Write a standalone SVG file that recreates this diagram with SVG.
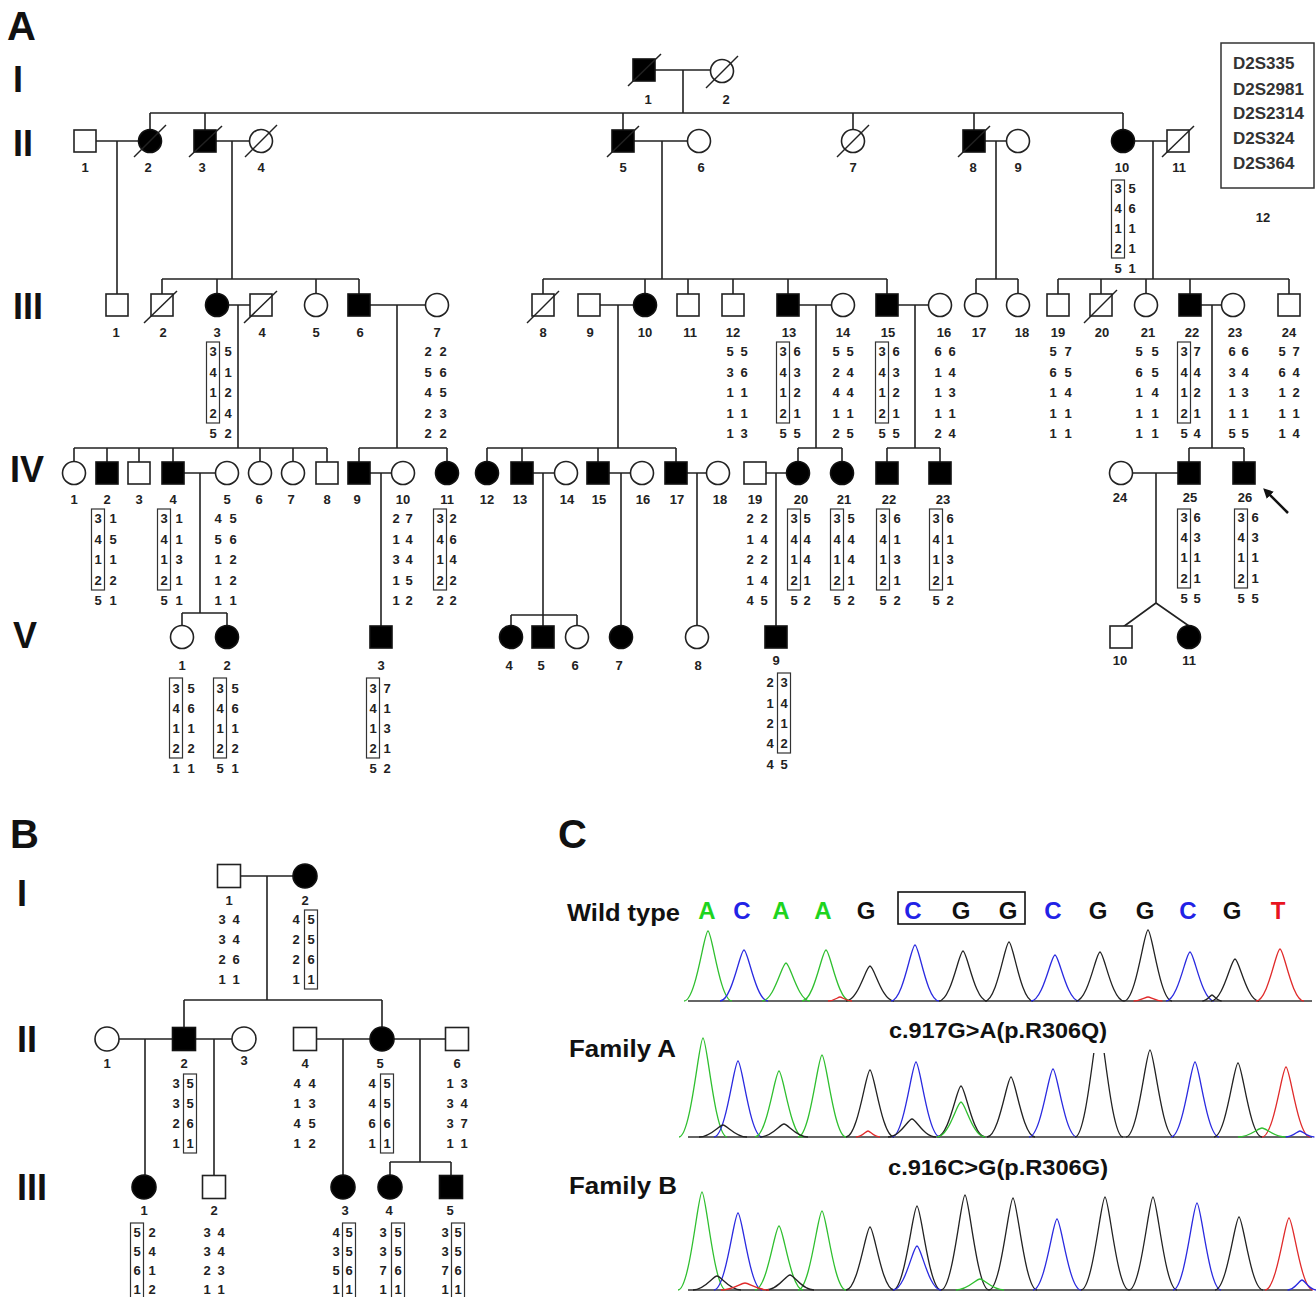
<svg xmlns="http://www.w3.org/2000/svg" width="1316" height="1297" viewBox="0 0 1316 1297">
<style>
.s{fill:#fff;stroke:#222;stroke-width:1.6}
.f{fill:#000;stroke:#111;stroke-width:1.6}
.ln{stroke:#222;stroke-width:1.6;fill:none}
.d{stroke:#222;stroke-width:1.5}
.lb{font-family:"Liberation Sans",Arial,sans-serif;font-weight:bold;font-size:13px;text-anchor:middle;fill:#222}
.g{font-family:"Liberation Sans",Arial,sans-serif;font-weight:bold;font-size:13px;text-anchor:middle;fill:#222}
.bx{fill:none;stroke:#333;stroke-width:1.2}
.gn{font-family:"Liberation Sans",Arial,sans-serif;font-weight:bold;font-size:36px;fill:#111}
.pn{font-family:"Liberation Sans",Arial,sans-serif;font-weight:bold;font-size:40px;fill:#111}
.lg{font-family:"Liberation Sans",Arial,sans-serif;font-weight:bold;font-size:17px;fill:#333}
.ct{font-family:"Liberation Sans",Arial,sans-serif;font-weight:bold;font-size:24px;fill:#111}
.mt{font-family:"Liberation Sans",Arial,sans-serif;font-weight:bold;font-size:22px;fill:#111;text-anchor:middle}
.sq{font-family:"Liberation Sans",Arial,sans-serif;font-weight:bold;font-size:24px;text-anchor:middle}
.gr{stroke:#2fbf2f}.bl{stroke:#2a2ae0}.bk{stroke:#222}.rd{stroke:#e02a2a}
.ax{stroke:#666;stroke-width:2.2}
</style>
<defs>
<path id="pk" d="M-24 0C-12 0 -4 -1 0 -1C4 -1 12 0 24 0" fill="none" stroke-width="1.3" vector-effect="non-scaling-stroke"/>
<marker id="ah" viewBox="0 0 10 10" refX="6" refY="5" markerWidth="4" markerHeight="4" orient="auto" markerUnits="strokeWidth"><path d="M0 0L10 5L0 10z" fill="#111"/></marker>
<clipPath id="cA"><rect x="1060" y="1053" width="80" height="100"/></clipPath>
</defs>

<!-- Panel labels -->
<text class="pn" x="7" y="40">A</text>
<text class="gn" x="13" y="92">I</text>
<text class="gn" x="13" y="156">II</text>
<text class="gn" x="13" y="319">III</text>
<text class="gn" x="10" y="482">IV</text>
<text class="gn" x="13" y="648">V</text>
<text class="pn" x="10" y="848">B</text>
<text class="gn" x="17" y="906">I</text>
<text class="gn" x="17" y="1052">II</text>
<text class="gn" x="17" y="1200">III</text>
<text class="pn" x="558" y="848">C</text>

<!-- Legend -->
<g id="legend">
<rect x="1221" y="43" width="93" height="145" fill="none" stroke="#333" stroke-width="1.5"/>
<text class="lg" x="1233" y="69">D2S335</text>
<text class="lg" x="1233" y="95">D2S2981</text>
<text class="lg" x="1233" y="119">D2S2314</text>
<text class="lg" x="1233" y="144">D2S324</text>
<text class="lg" x="1233" y="169">D2S364</text>
<text class="lb" x="1263" y="222">12</text>
</g>

<!-- Connectors -->
<g id="connectors" class="ln">
<!-- A gen I -->
<path d="M655 70H710.5M683 70V113M150 113H1123M150 113V129.5M205 113V130M623 113V130M853 113V129.5M974 113V130M1123 113V129.5"/>
<!-- A gen II marriages -->
<path d="M96 141H138.5M117 141V294M216 141H249.5M232 141V279M634 141H687.5M662 141V279M985 141H1006.5M996 141V279M1134.5 141H1167M1153 141V279"/>
<!-- A III sibships -->
<path d="M162 279H359M162 279V294M217 279V293.5M316 279V293.5M359 279V294"/>
<path d="M543 279H887M543 279V294M645 279V293.5M688 279V294M733 279V294M788 279V294M887 279V294"/>
<path d="M976 279H1018M976 279V293.5M1018 279V293.5"/>
<path d="M1058 279H1289M1058 279V294M1101 279V294M1146 279V293.5M1190 279V294M1289 279V294"/>
<!-- A III marriages -->
<path d="M228.5 305H250M238 305V448M370 305H425.5M397 305V448M600 305H633.5M618 305V448M799 305H831.5M816 305V448M898 305H928.5M915 305V448M1201 305H1221.5M1212 305V448"/>
<!-- A IV sibships -->
<path d="M74 448H327M74 448V461.5M107 448V462M139 448V462M173 448V462M260 448V461.5M293 448V461.5M327 448V462"/>
<path d="M359 448H447M359 448V462M447 448V461.5"/>
<path d="M487 448H676M487 448V461.5M522 448V462M598 448V462M676 448V462"/>
<path d="M798 448H842M798 448V461.5M842 448V461.5"/>
<path d="M887 448H940M887 448V462M940 448V462"/>
<path d="M1189 448H1244M1189 448V462M1244 448V462"/>
<!-- A IV marriages -->
<path d="M184 473H215.5M200 473V613M182 613H227M182 613V625.5M227 613V625.5"/>
<path d="M370 473H391.5M381 473V626"/>
<path d="M533 473H554.5M543 473V626M511 615H577M511 615V625.5M577 615V625.5"/>
<path d="M609 473H630.5M621 473V625.5"/>
<path d="M687 473H706.5M697 473V625.5"/>
<path d="M766 473H786.5M776 473V626"/>
<path d="M1132.5 473H1178M1156 473V603L1123 627M1156 603L1189 626"/>
<!-- B -->
<path d="M240.5 876H293M267 876V1000M184 1000H382M184 1000V1027.5M382 1000V1027"/>
<path d="M119 1039H172.5M145 1039V1175M195.5 1039H232M214 1039V1175.5"/>
<path d="M316.5 1039H370M343 1039V1175M394 1039H445.5M420 1039V1162M390 1162H451M390 1162V1175M451 1162V1175.5"/>
</g>
<line x1="1288" y1="513" x2="1266" y2="491" stroke="#111" stroke-width="2.5" marker-end="url(#ah)"/>

<!-- Panel A nodes -->
<g id="A-I-1"><rect class="f" x="633" y="59" width="22" height="22"/><line class="d" x1="628" y1="86" x2="661" y2="54"/><text class="lb" x="648" y="104">1</text></g>
<g id="A-I-2"><circle class="s" cx="722" cy="71" r="11.5"/><line class="d" x1="706" y1="88" x2="738" y2="56"/><text class="lb" x="726" y="104">2</text></g>

<g id="A-II-1"><rect class="s" x="74" y="130" width="22" height="22"/><text class="lb" x="85" y="172">1</text></g>
<g id="A-II-2"><circle class="f" cx="150" cy="141" r="11.5"/><line class="d" x1="134" y1="157" x2="166" y2="125"/><text class="lb" x="148" y="172">2</text></g>
<g id="A-II-3"><rect class="f" x="194" y="130" width="22" height="22"/><line class="d" x1="189" y1="157" x2="222" y2="126"/><text class="lb" x="202" y="172">3</text></g>
<g id="A-II-4"><circle class="s" cx="261" cy="141" r="11.5"/><line class="d" x1="245" y1="157" x2="277" y2="125"/><text class="lb" x="261" y="172">4</text></g>
<g id="A-II-5"><rect class="f" x="612" y="130" width="22" height="22"/><line class="d" x1="607" y1="157" x2="639" y2="126"/><text class="lb" x="623" y="172">5</text></g>
<g id="A-II-6"><circle class="s" cx="699" cy="141" r="11.5"/><text class="lb" x="701" y="172">6</text></g>
<g id="A-II-7"><circle class="s" cx="853" cy="141" r="11.5"/><line class="d" x1="837" y1="157" x2="869" y2="125"/><text class="lb" x="853" y="172">7</text></g>
<g id="A-II-8"><rect class="f" x="963" y="130" width="22" height="22"/><line class="d" x1="958" y1="157" x2="990" y2="126"/><text class="lb" x="973" y="172">8</text></g>
<g id="A-II-9"><circle class="s" cx="1018" cy="141" r="11.5"/><text class="lb" x="1018" y="172">9</text></g>
<g id="A-II-10"><circle class="f" cx="1123" cy="141" r="11.5"/><text class="lb" x="1122" y="172">10</text>
<rect class="bx" x="1111.5" y="180" width="13" height="78"/>
<text class="g" x="1118 1125 1132" y="193">3 5</text><text class="g" x="1118 1125 1132" y="213">4 6</text><text class="g" x="1118 1125 1132" y="233">1 1</text><text class="g" x="1118 1125 1132" y="253">2 1</text><text class="g" x="1118 1125 1132" y="273">5 1</text></g>
<g id="A-II-11"><rect class="s" x="1167" y="130" width="22" height="22"/><line class="d" x1="1162" y1="157" x2="1194" y2="126"/><text class="lb" x="1179" y="172">11</text></g>

<!-- Gen III -->
<g id="A-III-1"><rect class="s" x="106" y="294" width="22" height="22"/><text class="lb" x="116" y="337">1</text></g>
<g id="A-III-2"><rect class="s" x="151" y="294" width="22" height="22"/><line class="d" x1="144" y1="323" x2="177" y2="291"/><text class="lb" x="163" y="337">2</text></g>
<g id="A-III-3"><circle class="f" cx="217" cy="305" r="11.5"/><text class="lb" x="217" y="337">3</text>
<rect class="bx" x="206.5" y="342" width="13" height="81"/>
<text class="g" x="213 220 228" y="356">3 5</text><text class="g" x="213 220 228" y="377">4 1</text><text class="g" x="213 220 228" y="397">1 2</text><text class="g" x="213 220 228" y="418">2 4</text><text class="g" x="213 220 228" y="438">5 2</text></g>
<g id="A-III-4"><rect class="s" x="250" y="294" width="22" height="22"/><line class="d" x1="244" y1="323" x2="277" y2="291"/><text class="lb" x="262" y="337">4</text></g>
<g id="A-III-5"><circle class="s" cx="316" cy="305" r="11.5"/><text class="lb" x="316" y="337">5</text></g>
<g id="A-III-6"><rect class="f" x="348" y="294" width="22" height="22"/><text class="lb" x="360" y="337">6</text></g>
<g id="A-III-7"><circle class="s" cx="437" cy="305" r="11.5"/><text class="lb" x="437" y="337">7</text>
<text class="g" x="428 435 443" y="356">2 2</text><text class="g" x="428 435 443" y="377">5 6</text><text class="g" x="428 435 443" y="397">4 5</text><text class="g" x="428 435 443" y="418">2 3</text><text class="g" x="428 435 443" y="438">2 2</text></g>
<g id="A-III-8"><rect class="s" x="532" y="294" width="22" height="22"/><line class="d" x1="527" y1="323" x2="559" y2="291"/><text class="lb" x="543" y="337">8</text></g>
<g id="A-III-9"><rect class="s" x="578" y="294" width="22" height="22"/><text class="lb" x="590" y="337">9</text></g>
<g id="A-III-10"><circle class="f" cx="645" cy="305" r="11.5"/><text class="lb" x="645" y="337">10</text></g>
<g id="A-III-11"><rect class="s" x="677" y="294" width="22" height="22"/><text class="lb" x="690" y="337">11</text></g>
<g id="A-III-12"><rect class="s" x="722" y="294" width="22" height="22"/><text class="lb" x="733" y="337">12</text>
<text class="g" x="730 737 744" y="356">5 5</text><text class="g" x="730 737 744" y="377">3 6</text><text class="g" x="730 737 744" y="397">1 1</text><text class="g" x="730 737 744" y="418">1 1</text><text class="g" x="730 737 744" y="438">1 3</text></g>
<g id="A-III-13"><rect class="f" x="777" y="294" width="22" height="22"/><text class="lb" x="789" y="337">13</text>
<rect class="bx" x="776.5" y="342" width="13" height="81"/>
<text class="g" x="783 790 797" y="356">3 6</text><text class="g" x="783 790 797" y="377">4 3</text><text class="g" x="783 790 797" y="397">1 2</text><text class="g" x="783 790 797" y="418">2 1</text><text class="g" x="783 790 797" y="438">5 5</text></g>
<g id="A-III-14"><circle class="s" cx="843" cy="305" r="11.5"/><text class="lb" x="843" y="337">14</text>
<text class="g" x="836 843 850" y="356">5 5</text><text class="g" x="836 843 850" y="377">2 4</text><text class="g" x="836 843 850" y="397">4 4</text><text class="g" x="836 843 850" y="418">1 1</text><text class="g" x="836 843 850" y="438">2 5</text></g>
<g id="A-III-15"><rect class="f" x="876" y="294" width="22" height="22"/><text class="lb" x="888" y="337">15</text>
<rect class="bx" x="875.5" y="342" width="13" height="81"/>
<text class="g" x="882 889 896" y="356">3 6</text><text class="g" x="882 889 896" y="377">4 3</text><text class="g" x="882 889 896" y="397">1 2</text><text class="g" x="882 889 896" y="418">2 1</text><text class="g" x="882 889 896" y="438">5 5</text></g>
<g id="A-III-16"><circle class="s" cx="940" cy="305" r="11.5"/><text class="lb" x="944" y="337">16</text>
<text class="g" x="938 945 952" y="356">6 6</text><text class="g" x="938 945 952" y="377">1 4</text><text class="g" x="938 945 952" y="397">1 3</text><text class="g" x="938 945 952" y="418">1 1</text><text class="g" x="938 945 952" y="438">2 4</text></g>
<g id="A-III-17"><circle class="s" cx="976" cy="305" r="11.5"/><text class="lb" x="979" y="337">17</text></g>
<g id="A-III-18"><circle class="s" cx="1018" cy="305" r="11.5"/><text class="lb" x="1022" y="337">18</text></g>
<g id="A-III-19"><rect class="s" x="1047" y="294" width="22" height="22"/><text class="lb" x="1058" y="337">19</text>
<text class="g" x="1053 1060 1068" y="356">5 7</text><text class="g" x="1053 1060 1068" y="377">6 5</text><text class="g" x="1053 1060 1068" y="397">1 4</text><text class="g" x="1053 1060 1068" y="418">1 1</text><text class="g" x="1053 1060 1068" y="438">1 1</text></g>
<g id="A-III-20"><rect class="s" x="1090" y="294" width="22" height="22"/><line class="d" x1="1084" y1="323" x2="1117" y2="290"/><text class="lb" x="1102" y="337">20</text></g>
<g id="A-III-21"><circle class="s" cx="1146" cy="305" r="11.5"/><text class="lb" x="1148" y="337">21</text>
<text class="g" x="1139 1147 1155" y="356">5 5</text><text class="g" x="1139 1147 1155" y="377">6 5</text><text class="g" x="1139 1147 1155" y="397">1 4</text><text class="g" x="1139 1147 1155" y="418">1 1</text><text class="g" x="1139 1147 1155" y="438">1 1</text></g>
<g id="A-III-22"><rect class="f" x="1179" y="294" width="22" height="22"/><text class="lb" x="1192" y="337">22</text>
<rect class="bx" x="1177.5" y="342" width="13" height="81"/>
<text class="g" x="1184 1190 1197" y="356">3 7</text><text class="g" x="1184 1190 1197" y="377">4 4</text><text class="g" x="1184 1190 1197" y="397">1 2</text><text class="g" x="1184 1190 1197" y="418">2 1</text><text class="g" x="1184 1190 1197" y="438">5 4</text></g>
<g id="A-III-23"><circle class="s" cx="1233" cy="305" r="11.5"/><text class="lb" x="1235" y="337">23</text>
<text class="g" x="1232 1238 1245" y="356">6 6</text><text class="g" x="1232 1238 1245" y="377">3 4</text><text class="g" x="1232 1238 1245" y="397">1 3</text><text class="g" x="1232 1238 1245" y="418">1 1</text><text class="g" x="1232 1238 1245" y="438">5 5</text></g>
<g id="A-III-24"><rect class="s" x="1278" y="294" width="22" height="22"/><text class="lb" x="1289" y="337">24</text>
<text class="g" x="1282 1289 1296" y="356">5 7</text><text class="g" x="1282 1289 1296" y="377">6 4</text><text class="g" x="1282 1289 1296" y="397">1 2</text><text class="g" x="1282 1289 1296" y="418">1 1</text><text class="g" x="1282 1289 1296" y="438">1 4</text></g>

<!-- Gen IV -->
<g id="A-IV-1"><circle class="s" cx="74" cy="473" r="11.5"/><text class="lb" x="74" y="504">1</text></g>
<g id="A-IV-2"><rect class="f" x="96" y="462" width="22" height="22"/><text class="lb" x="107" y="504">2</text>
<rect class="bx" x="91.5" y="509" width="13" height="81"/>
<text class="g" x="98 105 113" y="523">3 1</text><text class="g" x="98 105 113" y="544">4 5</text><text class="g" x="98 105 113" y="564">1 1</text><text class="g" x="98 105 113" y="585">2 2</text><text class="g" x="98 105 113" y="605">5 1</text></g>
<g id="A-IV-3"><rect class="s" x="128" y="462" width="22" height="22"/><text class="lb" x="139" y="504">3</text></g>
<g id="A-IV-4"><rect class="f" x="162" y="462" width="22" height="22"/><text class="lb" x="173" y="504">4</text>
<rect class="bx" x="157.5" y="509" width="13" height="81"/>
<text class="g" x="164 171 179" y="523">3 1</text><text class="g" x="164 171 179" y="544">4 1</text><text class="g" x="164 171 179" y="564">1 3</text><text class="g" x="164 171 179" y="585">2 1</text><text class="g" x="164 171 179" y="605">5 1</text></g>
<g id="A-IV-5"><circle class="s" cx="227" cy="473" r="11.5"/><text class="lb" x="227" y="504">5</text>
<text class="g" x="218 225 233" y="523">4 5</text><text class="g" x="218 225 233" y="544">5 6</text><text class="g" x="218 225 233" y="564">1 2</text><text class="g" x="218 225 233" y="585">1 2</text><text class="g" x="218 225 233" y="605">1 1</text></g>
<g id="A-IV-6"><circle class="s" cx="260" cy="473" r="11.5"/><text class="lb" x="259" y="504">6</text></g>
<g id="A-IV-7"><circle class="s" cx="293" cy="473" r="11.5"/><text class="lb" x="291" y="504">7</text></g>
<g id="A-IV-8"><rect class="s" x="316" y="462" width="22" height="22"/><text class="lb" x="327" y="504">8</text></g>
<g id="A-IV-9"><rect class="f" x="348" y="462" width="22" height="22"/><text class="lb" x="357" y="504">9</text></g>
<g id="A-IV-10"><circle class="s" cx="403" cy="473" r="11.5"/><text class="lb" x="403" y="504">10</text>
<text class="g" x="396 402 409" y="523">2 7</text><text class="g" x="396 402 409" y="544">1 4</text><text class="g" x="396 402 409" y="564">3 4</text><text class="g" x="396 402 409" y="585">1 5</text><text class="g" x="396 402 409" y="605">1 2</text></g>
<g id="A-IV-11"><circle class="f" cx="447" cy="473" r="11.5"/><text class="lb" x="447" y="504">11</text>
<rect class="bx" x="433.5" y="509" width="13" height="81"/>
<text class="g" x="440 446 453" y="523">3 2</text><text class="g" x="440 446 453" y="544">4 6</text><text class="g" x="440 446 453" y="564">1 4</text><text class="g" x="440 446 453" y="585">2 2</text><text class="g" x="440 446 453" y="605">2 2</text></g>
<g id="A-IV-12"><circle class="f" cx="487" cy="473" r="11.5"/><text class="lb" x="487" y="504">12</text></g>
<g id="A-IV-13"><rect class="f" x="511" y="462" width="22" height="22"/><text class="lb" x="520" y="504">13</text></g>
<g id="A-IV-14"><circle class="s" cx="566" cy="473" r="11.5"/><text class="lb" x="567" y="504">14</text></g>
<g id="A-IV-15"><rect class="f" x="587" y="462" width="22" height="22"/><text class="lb" x="599" y="504">15</text></g>
<g id="A-IV-16"><circle class="s" cx="642" cy="473" r="11.5"/><text class="lb" x="643" y="504">16</text></g>
<g id="A-IV-17"><rect class="f" x="665" y="462" width="22" height="22"/><text class="lb" x="677" y="504">17</text></g>
<g id="A-IV-18"><circle class="s" cx="718" cy="473" r="11.5"/><text class="lb" x="720" y="504">18</text></g>
<g id="A-IV-19"><rect class="s" x="744" y="462" width="22" height="22"/><text class="lb" x="755" y="504">19</text>
<text class="g" x="750 757 764" y="523">2 2</text><text class="g" x="750 757 764" y="544">1 4</text><text class="g" x="750 757 764" y="564">2 2</text><text class="g" x="750 757 764" y="585">1 4</text><text class="g" x="750 757 764" y="605">4 5</text></g>
<g id="A-IV-20"><circle class="f" cx="798" cy="473" r="11.5"/><text class="lb" x="801" y="504">20</text>
<rect class="bx" x="787.5" y="509" width="13" height="81"/>
<text class="g" x="794 800 807" y="523">3 5</text><text class="g" x="794 800 807" y="544">4 4</text><text class="g" x="794 800 807" y="564">1 4</text><text class="g" x="794 800 807" y="585">2 1</text><text class="g" x="794 800 807" y="605">5 2</text></g>
<g id="A-IV-21"><circle class="f" cx="842" cy="473" r="11.5"/><text class="lb" x="844" y="504">21</text>
<rect class="bx" x="830.5" y="509" width="13" height="81"/>
<text class="g" x="837 844 851" y="523">3 5</text><text class="g" x="837 844 851" y="544">4 4</text><text class="g" x="837 844 851" y="564">1 4</text><text class="g" x="837 844 851" y="585">2 1</text><text class="g" x="837 844 851" y="605">5 2</text></g>
<g id="A-IV-22"><rect class="f" x="876" y="462" width="22" height="22"/><text class="lb" x="889" y="504">22</text>
<rect class="bx" x="876.5" y="509" width="13" height="81"/>
<text class="g" x="883 890 897" y="523">3 6</text><text class="g" x="883 890 897" y="544">4 1</text><text class="g" x="883 890 897" y="564">1 3</text><text class="g" x="883 890 897" y="585">2 1</text><text class="g" x="883 890 897" y="605">5 2</text></g>
<g id="A-IV-23"><rect class="f" x="929" y="462" width="22" height="22"/><text class="lb" x="943" y="504">23</text>
<rect class="bx" x="929.5" y="509" width="13" height="81"/>
<text class="g" x="936 943 950" y="523">3 6</text><text class="g" x="936 943 950" y="544">4 1</text><text class="g" x="936 943 950" y="564">1 3</text><text class="g" x="936 943 950" y="585">2 1</text><text class="g" x="936 943 950" y="605">5 2</text></g>
<g id="A-IV-24"><circle class="s" cx="1121" cy="473" r="11.5"/><text class="lb" x="1120" y="502">24</text></g>
<g id="A-IV-25"><rect class="f" x="1178" y="462" width="22" height="22"/><text class="lb" x="1190" y="502">25</text>
<rect class="bx" x="1177.5" y="509" width="13" height="79"/>
<text class="g" x="1184 1190 1197" y="522">3 6</text><text class="g" x="1184 1190 1197" y="542">4 3</text><text class="g" x="1184 1190 1197" y="562">1 1</text><text class="g" x="1184 1190 1197" y="583">2 1</text><text class="g" x="1184 1190 1197" y="603">5 5</text></g>
<g id="A-IV-26"><rect class="f" x="1233" y="462" width="22" height="22"/><text class="lb" x="1245" y="502">26</text>
<rect class="bx" x="1234.5" y="509" width="13" height="79"/>
<text class="g" x="1241 1248 1255" y="522">3 6</text><text class="g" x="1241 1248 1255" y="542">4 3</text><text class="g" x="1241 1248 1255" y="562">1 1</text><text class="g" x="1241 1248 1255" y="583">2 1</text><text class="g" x="1241 1248 1255" y="603">5 5</text></g>

<!-- Gen V -->
<g id="A-V-1"><circle class="s" cx="182" cy="637" r="11.5"/><text class="lb" x="182" y="670">1</text>
<rect class="bx" x="169.5" y="678" width="13" height="80"/>
<text class="g" x="176 183 191" y="693">3 5</text><text class="g" x="176 183 191" y="713">4 6</text><text class="g" x="176 183 191" y="733">1 1</text><text class="g" x="176 183 191" y="753">2 2</text><text class="g" x="176 183 191" y="773">1 1</text></g>
<g id="A-V-2"><circle class="f" cx="227" cy="637" r="11.5"/><text class="lb" x="227" y="670">2</text>
<rect class="bx" x="213.5" y="678" width="13" height="80"/>
<text class="g" x="220 227 235" y="693">3 5</text><text class="g" x="220 227 235" y="713">4 6</text><text class="g" x="220 227 235" y="733">1 1</text><text class="g" x="220 227 235" y="753">2 2</text><text class="g" x="220 227 235" y="773">5 1</text></g>
<g id="A-V-3"><rect class="f" x="370" y="626" width="22" height="22"/><text class="lb" x="381" y="670">3</text>
<rect class="bx" x="366.5" y="678" width="13" height="80"/>
<text class="g" x="373 380 387" y="693">3 7</text><text class="g" x="373 380 387" y="713">4 1</text><text class="g" x="373 380 387" y="733">1 3</text><text class="g" x="373 380 387" y="753">2 1</text><text class="g" x="373 380 387" y="773">5 2</text></g>
<g id="A-V-4"><circle class="f" cx="511" cy="637" r="11.5"/><text class="lb" x="509" y="670">4</text></g>
<g id="A-V-5"><rect class="f" x="532" y="626" width="22" height="22"/><text class="lb" x="541" y="670">5</text></g>
<g id="A-V-6"><circle class="s" cx="577" cy="637" r="11.5"/><text class="lb" x="575" y="670">6</text></g>
<g id="A-V-7"><circle class="f" cx="621" cy="637" r="11.5"/><text class="lb" x="619" y="670">7</text></g>
<g id="A-V-8"><circle class="s" cx="697" cy="637" r="11.5"/><text class="lb" x="698" y="670">8</text></g>
<g id="A-V-9"><rect class="f" x="765" y="626" width="22" height="22"/><text class="lb" x="776" y="665">9</text>
<rect class="bx" x="777.5" y="673" width="13" height="80"/>
<text class="g" x="770 777 784" y="687">2 3</text><text class="g" x="770 777 784" y="708">1 4</text><text class="g" x="770 777 784" y="728">2 1</text><text class="g" x="770 777 784" y="748">4 2</text><text class="g" x="770 777 784" y="769">4 5</text></g>
<g id="A-V-10"><rect class="s" x="1110" y="626" width="22" height="22"/><text class="lb" x="1120" y="665">10</text></g>
<g id="A-V-11"><circle class="f" cx="1189" cy="637" r="11.5"/><text class="lb" x="1189" y="665">11</text></g>

<!-- Panel B nodes -->
<g id="B-I-1"><rect class="s" x="217.5" y="864.5" width="23" height="23"/><text class="lb" x="229" y="905">1</text>
<text class="g" x="222 229 236" y="924">3 4</text><text class="g" x="222 229 236" y="944">3 4</text><text class="g" x="222 229 236" y="964">2 6</text><text class="g" x="222 229 236" y="984">1 1</text></g>
<g id="B-I-2"><circle class="f" cx="305" cy="876" r="12"/><text class="lb" x="305" y="905">2</text>
<rect class="bx" x="304.5" y="910" width="13" height="79"/>
<text class="g" x="296 303 311" y="924">4 5</text><text class="g" x="296 303 311" y="944">2 5</text><text class="g" x="296 303 311" y="964">2 6</text><text class="g" x="296 303 311" y="984">1 1</text></g>
<g id="B-II-1"><circle class="s" cx="107" cy="1039" r="12"/><text class="lb" x="107" y="1068">1</text></g>
<g id="B-II-2"><rect class="f" x="172.5" y="1027.5" width="23" height="23"/><text class="lb" x="184" y="1068">2</text>
<rect class="bx" x="183.5" y="1074" width="13" height="79"/>
<text class="g" x="176 183 190" y="1088">3 5</text><text class="g" x="176 183 190" y="1108">3 5</text><text class="g" x="176 183 190" y="1128">2 6</text><text class="g" x="176 183 190" y="1148">1 1</text></g>
<g id="B-II-3"><circle class="s" cx="244" cy="1039" r="12"/><text class="lb" x="244" y="1065">3</text></g>
<g id="B-II-4"><rect class="s" x="293.5" y="1027.5" width="23" height="23"/><text class="lb" x="305" y="1068">4</text>
<text class="g" x="297 304 312" y="1088">4 4</text><text class="g" x="297 304 312" y="1108">1 3</text><text class="g" x="297 304 312" y="1128">4 5</text><text class="g" x="297 304 312" y="1148">1 2</text></g>
<g id="B-II-5"><circle class="f" cx="382" cy="1039" r="12"/><text class="lb" x="380" y="1068">5</text>
<rect class="bx" x="380.5" y="1074" width="13" height="79"/>
<text class="g" x="372 380 387" y="1088">4 5</text><text class="g" x="372 380 387" y="1108">4 5</text><text class="g" x="372 380 387" y="1128">6 6</text><text class="g" x="372 380 387" y="1148">1 1</text></g>
<g id="B-II-6"><rect class="s" x="445.5" y="1027.5" width="23" height="23"/><text class="lb" x="457" y="1068">6</text>
<text class="g" x="450 457 464" y="1088">1 3</text><text class="g" x="450 457 464" y="1108">3 4</text><text class="g" x="450 457 464" y="1128">3 7</text><text class="g" x="450 457 464" y="1148">1 1</text></g>
<g id="B-III-1"><circle class="f" cx="144" cy="1187" r="12"/><text class="lb" x="144" y="1215">1</text>
<rect class="bx" x="130.5" y="1223" width="13" height="82"/>
<text class="g" x="137 144 152" y="1237">5 2</text><text class="g" x="137 144 152" y="1256">5 4</text><text class="g" x="137 144 152" y="1275">6 1</text><text class="g" x="137 144 152" y="1294">1 2</text></g>
<g id="B-III-2"><rect class="s" x="202.5" y="1175.5" width="23" height="23"/><text class="lb" x="214" y="1215">2</text>
<text class="g" x="207 214 221" y="1237">3 4</text><text class="g" x="207 214 221" y="1256">3 4</text><text class="g" x="207 214 221" y="1275">2 3</text><text class="g" x="207 214 221" y="1294">1 1</text></g>
<g id="B-III-3"><circle class="f" cx="343" cy="1187" r="12"/><text class="lb" x="345" y="1215">3</text>
<rect class="bx" x="342.5" y="1223" width="13" height="82"/>
<text class="g" x="336 342 349" y="1237">4 5</text><text class="g" x="336 342 349" y="1256">3 5</text><text class="g" x="336 342 349" y="1275">5 6</text><text class="g" x="336 342 349" y="1294">1 1</text></g>
<g id="B-III-4"><circle class="f" cx="390" cy="1187" r="12"/><text class="lb" x="389" y="1215">4</text>
<rect class="bx" x="391.5" y="1223" width="13" height="82"/>
<text class="g" x="383 390 398" y="1237">3 5</text><text class="g" x="383 390 398" y="1256">3 5</text><text class="g" x="383 390 398" y="1275">7 6</text><text class="g" x="383 390 398" y="1294">1 1</text></g>
<g id="B-III-5"><rect class="f" x="439.5" y="1175.5" width="23" height="23"/><text class="lb" x="450" y="1215">5</text>
<rect class="bx" x="451.5" y="1223" width="13" height="82"/>
<text class="g" x="445 451 458" y="1237">3 5</text><text class="g" x="445 451 458" y="1256">3 5</text><text class="g" x="445 451 458" y="1275">7 6</text><text class="g" x="445 451 458" y="1294">1 1</text></g>

<!-- Panel C -->
<g id="C-wild">
<text class="ct" x="567" y="921" textLength="113" lengthAdjust="spacingAndGlyphs">Wild type</text>
<text class="sq" x="707" y="919" fill="#1ed41e">A</text>
<text class="sq" x="742" y="919" fill="#2222e6">C</text>
<text class="sq" x="781" y="919" fill="#1ed41e">A</text>
<text class="sq" x="823" y="919" fill="#1ed41e">A</text>
<text class="sq" x="866" y="919" fill="#111">G</text>
<text class="sq" x="913" y="919" fill="#2222e6">C</text>
<text class="sq" x="961" y="919" fill="#111">G</text>
<text class="sq" x="1008" y="919" fill="#111">G</text>
<text class="sq" x="1053" y="919" fill="#2222e6">C</text>
<text class="sq" x="1098" y="919" fill="#111">G</text>
<text class="sq" x="1145" y="919" fill="#111">G</text>
<text class="sq" x="1188" y="919" fill="#2222e6">C</text>
<text class="sq" x="1232" y="919" fill="#111">G</text>
<text class="sq" x="1278" y="919" fill="#e8141e">T</text>
<rect x="898" y="892" width="127" height="32" fill="none" stroke="#111" stroke-width="1.6"/>
<line class="ax" x1="688" y1="1001" x2="1312" y2="1001"/>
<use href="#pk" class="gr" transform="translate(708 1001) scale(1 70)"/>
<use href="#pk" class="bl" transform="translate(744 1001) scale(1 51)"/>
<use href="#pk" class="gr" transform="translate(786 1001) scale(1 38)"/>
<use href="#pk" class="gr" transform="translate(826 1001) scale(1 51)"/>
<use href="#pk" class="bk" transform="translate(870 1001) scale(1 35)"/>
<use href="#pk" class="bl" transform="translate(915 1001) scale(1 56)"/>
<use href="#pk" class="bk" transform="translate(963 1001) scale(1 50)"/>
<use href="#pk" class="bk" transform="translate(1009 1001) scale(1 59)"/>
<use href="#pk" class="bl" transform="translate(1055 1001) scale(1 46)"/>
<use href="#pk" class="bk" transform="translate(1100 1001) scale(1 49)"/>
<use href="#pk" class="bk" transform="translate(1148 1001) scale(1 71)"/>
<use href="#pk" class="bl" transform="translate(1190 1001) scale(1 49)"/>
<use href="#pk" class="bk" transform="translate(1235 1001) scale(1 42)"/>
<use href="#pk" class="rd" transform="translate(1280 1001) scale(1 52)"/>
<use href="#pk" class="rd" transform="translate(840 1001) scale(0.5 4)"/>
<use href="#pk" class="rd" transform="translate(1148 1001) scale(0.6 4)"/>
<use href="#pk" class="bk" transform="translate(1212 1001) scale(0.4 6)"/>
</g>
<g id="C-famA">
<text class="mt" x="998" y="1038" textLength="218" lengthAdjust="spacingAndGlyphs">c.917G&gt;A(p.R306Q)</text>
<text class="ct" x="569" y="1057" textLength="107" lengthAdjust="spacingAndGlyphs">Family A</text>
<line class="ax" x1="688" y1="1137" x2="1312" y2="1137"/>
<use href="#pk" class="gr" transform="translate(703 1137) scale(1 99)"/>
<use href="#pk" class="bl" transform="translate(738 1137) scale(1 76)"/>
<use href="#pk" class="gr" transform="translate(779 1137) scale(1 66)"/>
<use href="#pk" class="gr" transform="translate(822 1137) scale(1 82)"/>
<use href="#pk" class="bk" transform="translate(870 1137) scale(1 67)"/>
<use href="#pk" class="bl" transform="translate(916 1137) scale(1 75)"/>
<use href="#pk" class="bk" transform="translate(961 1137) scale(1 51)"/>
<use href="#pk" class="gr" transform="translate(961 1137) scale(1 35)"/>
<use href="#pk" class="bk" transform="translate(1011 1137) scale(1 60)"/>
<use href="#pk" class="bl" transform="translate(1053 1137) scale(1 68)"/>
<g clip-path="url(#cA)"><use href="#pk" class="bk" transform="translate(1099 1137) scale(1 112)"/></g>
<use href="#pk" class="bk" transform="translate(1150 1137) scale(1 87)"/>
<use href="#pk" class="bl" transform="translate(1195 1137) scale(1 75)"/>
<use href="#pk" class="bk" transform="translate(1238 1137) scale(1 74)"/>
<use href="#pk" class="rd" transform="translate(1286 1137) scale(1 70)"/>
<use href="#pk" class="bk" transform="translate(723 1137) scale(1 12)"/>
<use href="#pk" class="bk" transform="translate(784 1137) scale(1 13)"/>
<use href="#pk" class="bk" transform="translate(912 1137) scale(1 18)"/>
<use href="#pk" class="rd" transform="translate(868 1137) scale(0.5 6)"/>
<use href="#pk" class="gr" transform="translate(1262 1137) scale(1 9)"/>
<use href="#pk" class="bl" transform="translate(1300 1137) scale(0.6 6)"/>
</g>
<g id="C-famB">
<text class="mt" x="998" y="1175" textLength="220" lengthAdjust="spacingAndGlyphs">c.916C&gt;G(p.R306G)</text>
<text class="ct" x="569" y="1194" textLength="108" lengthAdjust="spacingAndGlyphs">Family B</text>
<line class="ax" x1="688" y1="1290" x2="1312" y2="1290"/>
<use href="#pk" class="gr" transform="translate(702 1290) scale(1 98)"/>
<use href="#pk" class="bl" transform="translate(738 1290) scale(1 77)"/>
<use href="#pk" class="gr" transform="translate(779 1290) scale(1 64)"/>
<use href="#pk" class="gr" transform="translate(822 1290) scale(1 79)"/>
<use href="#pk" class="bk" transform="translate(870 1290) scale(1 63)"/>
<use href="#pk" class="bk" transform="translate(917 1290) scale(1 84)"/>
<use href="#pk" class="bl" transform="translate(917 1290) scale(1 44)"/>
<use href="#pk" class="bk" transform="translate(965 1290) scale(1 95)"/>
<use href="#pk" class="bk" transform="translate(1013 1290) scale(1 92)"/>
<use href="#pk" class="bl" transform="translate(1057 1290) scale(1 71)"/>
<use href="#pk" class="bk" transform="translate(1105 1290) scale(1 93)"/>
<use href="#pk" class="bk" transform="translate(1153 1290) scale(1 93)"/>
<use href="#pk" class="bl" transform="translate(1197 1290) scale(1 87)"/>
<use href="#pk" class="bk" transform="translate(1239 1290) scale(1 73)"/>
<use href="#pk" class="rd" transform="translate(1289 1290) scale(1 72)"/>
<use href="#pk" class="bk" transform="translate(717 1290) scale(1 14)"/>
<use href="#pk" class="bk" transform="translate(790 1290) scale(1 15)"/>
<use href="#pk" class="rd" transform="translate(745 1290) scale(1 7)"/>
<use href="#pk" class="gr" transform="translate(980 1290) scale(1 11)"/>
<use href="#pk" class="bl" transform="translate(1302 1290) scale(0.6 10)"/>
</g>
</svg>
